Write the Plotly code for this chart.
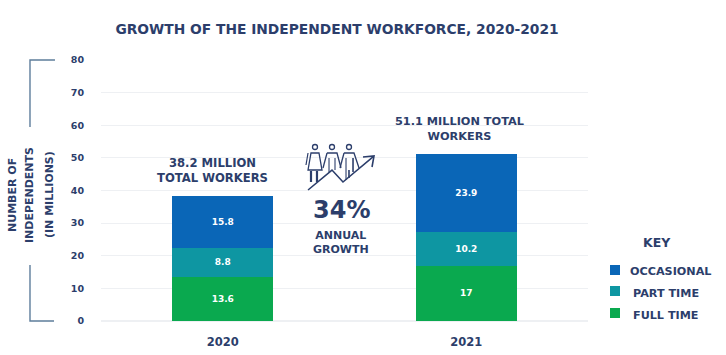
import plotly.graph_objects as go

years = ["2020", "2021"]
full_time = [13.6, 17]
part_time = [8.8, 10.2]
occasional = [15.8, 23.9]
totals = [38.2, 51.1]
total_labels = ["38.2 MILLION<br>TOTAL WORKERS", "51.1 MILLION TOTAL<br>WORKERS"]
title_text = "GROWTH OF THE INDEPENDENT WORKFORCE, 2020-2021"
axis_lines = ["NUMBER OF", "INDEPENDENTS", "(IN MILLIONS)"]

W, H = 726, 355
L, R, T, B = 101, 588, 60, 321
NAVY = "#2c3e6b"
FONT = "DejaVu Sans"
fx = lambda x: (x - L) / (R - L)
fy = lambda y: (B - y) / (B - T)
COLORS = {"FULL TIME": "#0aa94f", "PART TIME": "#0e96a2", "OCCASIONAL": "#0a66b7"}

fig = go.Figure()
for name, vals in [("FULL TIME", full_time), ("PART TIME", part_time), ("OCCASIONAL", occasional)]:
    fig.add_bar(x=years, y=vals, name=name, marker=dict(color=COLORS[name], line_width=0),
                text=[str(v) for v in vals], textposition="inside", insidetextanchor="middle",
                textangle=0, textfont=dict(color="white", size=9, family=FONT, weight=700),
                hoverinfo="x+y+name", showlegend=False)


def line(pts, width=1.3, color=NAVY, closed=False):
    d = "M" + " L".join(f"{fx(x):.4f},{fy(y):.4f}" for x, y in pts) + (" Z" if closed else "")
    return dict(type="path", xref="paper", yref="paper", path=d, line=dict(color=color, width=width))


def rect(x0, y0, x1, y1, fill="white", layer="below"):
    return dict(type="rect", xref="paper", yref="paper", x0=fx(x0), x1=fx(x1), y0=fy(y1), y1=fy(y0),
                fillcolor=fill, line_width=0, layer=layer)


shapes = [rect(136, 150, 292, 196), rect(296, 136, 392, 265), rect(385, 105, 540, 150)]
BR = "#5d7d9b"
shapes += [line([(55, 60), (30, 60), (30, 127)], 1.4, BR), line([(30, 265), (30, 321), (54, 321)], 1.4, BR)]
# growth icon
for cx in (315, 332, 349):
    shapes.append(dict(type="circle", xref="paper", yref="paper", x0=fx(cx - 2.5), x1=fx(cx + 2.5),
                       y0=fy(149.5), y1=fy(144.5), line=dict(color=NAVY, width=1.3)))
shapes += [
    line([(311, 153), (319, 153), (322, 170), (308, 170)], 1.3, closed=True),
    line([(308, 153), (306, 165)], 1.2),
    line([(311, 171), (311, 182)], 2.2),
    line([(317, 171), (317, 182)], 2.2),
    line([(327, 153), (337, 153), (341, 168)], 1.3),
    line([(327, 153), (323, 168)], 1.3),
    line([(329, 158), (329, 172)], 1.1),
    line([(335, 158), (335, 170)], 1.1),
    line([(344, 153), (354, 153), (359, 168)], 1.3),
    line([(344, 153), (340, 168)], 1.3),
    line([(346, 158), (346, 180)], 1.1),
    line([(349, 170), (349, 178)], 1.6),
    line([(353, 158), (353, 172)], 1.6),
    line([(308, 190), (332, 170), (343, 182), (373, 157)], 1.6),
    line([(363, 157), (374, 156), (372, 167)], 1.6),
]
# key swatches
for name, y in [("OCCASIONAL", 270), ("PART TIME", 291), ("FULL TIME", 313)]:
    shapes.append(rect(610, y - 5, 620, y + 5, COLORS[name], "above"))

ann = []
for i, (t, lab, dx, sz) in enumerate(zip(totals, total_labels, (-10, -7), (11.6, 11.3))):
    ann.append(dict(x=i, y=t, xref="x", yref="y", text=lab, showarrow=False, yanchor="bottom", yshift=9, xshift=dx,
                    font=dict(size=sz, color=NAVY, family=FONT, weight=700)))


def note(x, y, text, size, weight=700, angle=0):
    return dict(xref="paper", yref="paper", x=fx(x), y=fy(y), xanchor="center", yanchor="middle", text=text,
                textangle=angle, showarrow=False, font=dict(size=size, color=NAVY, family=FONT, weight=weight))


ann += [note(341, 210, "34%", 24, 600), note(341, 242, "ANNUAL<br>GROWTH", 11)]
ann += [note(x, 195, t, 11, 700, -90) for x, t in zip((13, 30, 50), axis_lines)]
ann += [note(657, 242, "KEY", 12.5), note(670.5, 271, "OCCASIONAL", 11.2),
        note(666, 293, "PART TIME", 11.2), note(665.5, 315, "FULL TIME", 11.2)]

fig.update_layout(
    width=W, height=H, autosize=False, paper_bgcolor="white", plot_bgcolor="white",
    margin=dict(l=L, r=W - R, t=T, b=H - B), barmode="stack", bargap=0.585,
    font=dict(family=FONT, color=NAVY), showlegend=False,
    title=dict(text=title_text, x=337 / W, xanchor="center", y=1 - 29 / H, yanchor="middle",
               font=dict(size=13.8, color=NAVY, family=FONT, weight=700)),
    xaxis=dict(type="category", categoryorder="array", categoryarray=years, range=[-0.5, 1.5], showgrid=False,
               showline=False, zeroline=False, ticks="outside", automargin=False,
               ticklen=10, tickcolor="white", tickfont=dict(size=11.5, color=NAVY, weight=700)),
    yaxis=dict(range=[0, 80], dtick=10, gridcolor="#eef0f3", gridwidth=1, zeroline=True, automargin=False,
               zerolinecolor="#eef0f3", showline=False, ticks="outside", ticklen=14, tickcolor="white",
               tickfont=dict(size=9.5, color=NAVY, weight=700)),
    shapes=shapes, annotations=ann,
)
fig.write_html("out.html", config=dict(displayModeBar=False), post_script="document.body.style.margin='0';")
